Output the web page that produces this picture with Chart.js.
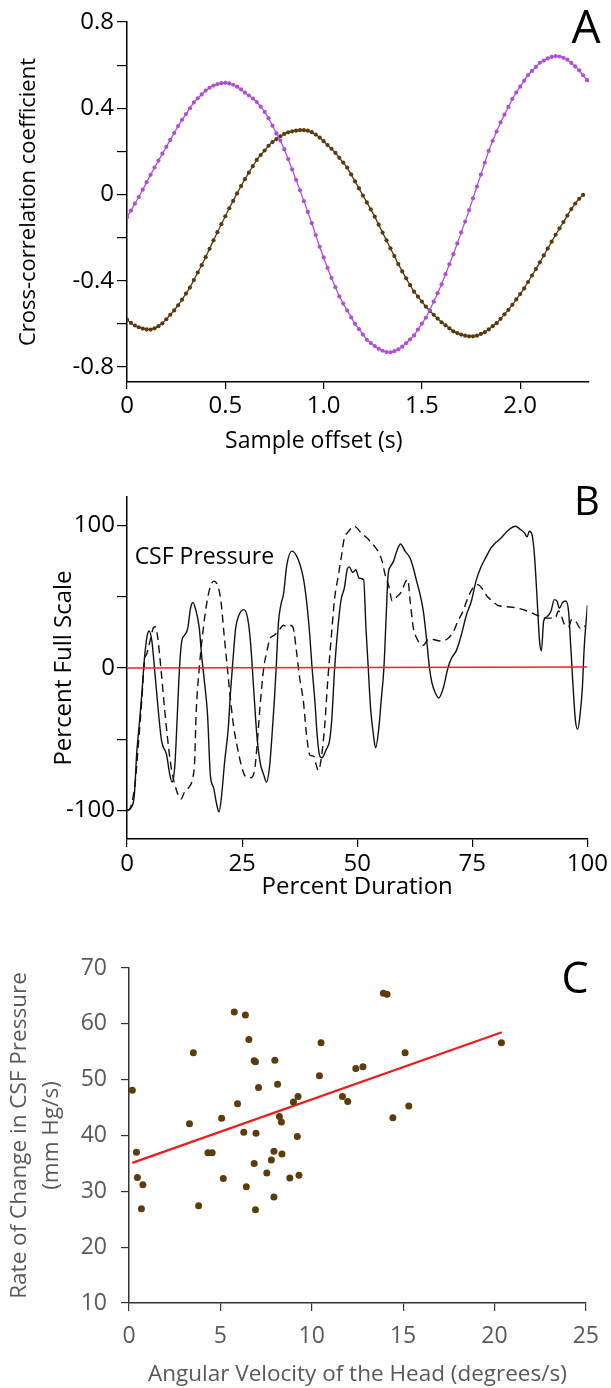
<!DOCTYPE html>
<html>
<head>
<meta charset="utf-8">
<script src="https://cdn.jsdelivr.net/npm/chart.js@4.4.1/dist/chart.umd.min.js"></script>
<style>
  body { margin: 0; background: #fff; }
  canvas { position: absolute; left: 0; display: block; }
</style>
</head>
<body>
<canvas id="chartA" width="611" height="460" style="top:0px"></canvas>
<canvas id="chartB" width="611" height="455" style="top:460px"></canvas>
<canvas id="chartC" width="611" height="473" style="top:915px"></canvas>
<script>
// ---- panel A: cross-correlation, one value every 0.02 s ----
const sampleStep = 0.02;
const purpleA = [
  -0.106, -0.075, -0.043, -0.012, 0.022, 0.057, 0.091, 0.125, 0.157, 0.189,
  0.221, 0.253, 0.285, 0.317, 0.346, 0.373, 0.400, 0.427, 0.446, 0.464,
  0.482, 0.495, 0.505, 0.512, 0.516, 0.518, 0.515, 0.509, 0.500, 0.487,
  0.472, 0.459, 0.445, 0.429, 0.407, 0.383, 0.354, 0.319, 0.283, 0.250,
  0.210, 0.164, 0.116, 0.068, 0.019, -0.031, -0.081, -0.133, -0.188, -0.243,
  -0.292, -0.341, -0.387, -0.430, -0.473, -0.506, -0.538, -0.570, -0.600, -0.625,
  -0.650, -0.674, -0.689, -0.703, -0.716, -0.725, -0.731, -0.732, -0.727, -0.718,
  -0.706, -0.690, -0.672, -0.654, -0.627, -0.599, -0.572, -0.536, -0.497, -0.458,
  -0.417, -0.370, -0.324, -0.277, -0.227, -0.176, -0.126, -0.073, -0.018, 0.037,
  0.092, 0.147, 0.202, 0.249, 0.292, 0.334, 0.370, 0.406, 0.443, 0.473,
  0.500, 0.528, 0.554, 0.573, 0.592, 0.611, 0.621, 0.631, 0.638, 0.642,
  0.640, 0.634, 0.625, 0.610, 0.594, 0.576, 0.553, 0.530
];
const brownA = [
  -0.581, -0.596, -0.608, -0.616, -0.622, -0.626, -0.627, -0.621, -0.611, -0.598,
  -0.579, -0.558, -0.538, -0.514, -0.488, -0.460, -0.432, -0.397, -0.362, -0.328,
  -0.291, -0.252, -0.213, -0.175, -0.138, -0.101, -0.064, -0.030, 0.005, 0.039,
  0.071, 0.101, 0.131, 0.160, 0.183, 0.204, 0.226, 0.243, 0.257, 0.270,
  0.281, 0.288, 0.293, 0.296, 0.298, 0.298, 0.296, 0.289, 0.278, 0.264,
  0.247, 0.229, 0.212, 0.193, 0.170, 0.148, 0.124, 0.093, 0.061, 0.028,
  -0.005, -0.037, -0.069, -0.103, -0.140, -0.177, -0.213, -0.250, -0.286, -0.323,
  -0.357, -0.389, -0.421, -0.451, -0.474, -0.497, -0.520, -0.540, -0.558, -0.576,
  -0.593, -0.607, -0.621, -0.635, -0.643, -0.650, -0.655, -0.658, -0.658, -0.655,
  -0.647, -0.639, -0.626, -0.611, -0.597, -0.577, -0.556, -0.535, -0.512, -0.487,
  -0.462, -0.436, -0.406, -0.376, -0.346, -0.315, -0.283, -0.251, -0.219, -0.187,
  -0.157, -0.128, -0.098, -0.068, -0.042, -0.020, -0.002
];
const yTicksA = [-0.8, -0.6, -0.4, -0.2, 0, 0.2, 0.4, 0.6, 0.8];
const yLabelsA = ['-0.8', '', '-0.4', '', '0', '', '0.4', '', '0.8'];
const xTicksA = [0, 0.5, 1, 1.5, 2];
const xLabelsA = ['0', '0.5', '1.0', '1.5', '2.0'];

// ---- panel B: percent full scale over percent duration ----
const solidPctB = [
  0, 0.9, 1.6, 2.1, 2.6, 3.2, 3.8, 4.4, 4.8, 5.4,
  6.1, 6.8, 7.5, 8.6, 9.3, 9.8, 10.4, 10.9, 11.4, 11.9,
  12.5, 13.2, 13.8, 14.3, 15.0, 15.7, 16.2, 16.8, 17.5, 18.1,
  18.8, 19.5, 20.0, 20.5, 21.2, 22.0, 22.5, 23.0, 23.6, 24.3,
  25.4, 26.2, 26.8, 27.5, 28.2, 28.9, 29.7, 30.3, 31.0, 31.5,
  32.0, 32.4, 32.9, 33.4, 34.0, 34.7, 35.8, 37.2, 38.3, 39.0,
  39.7, 40.2, 40.8, 41.3, 41.8, 42.3, 43.3, 44.0, 44.5, 45.1,
  45.8, 46.5, 47.2, 47.9, 48.3, 49.0, 49.7, 50.4, 51.4, 51.9,
  52.4, 52.9, 53.6, 54.0, 54.7, 55.2, 55.8, 56.3, 56.7, 57.2,
  57.9, 58.6, 59.4, 60.4, 61.5, 62.2, 62.9, 63.7, 64.4, 65.1,
  65.7, 66.2, 66.9, 67.7, 68.7, 69.7, 70.5, 71.5, 72.6, 73.7,
  74.8, 75.8, 76.9, 78.0, 79.0, 80.1, 81.2, 82.3, 83.3, 84.4,
  85.5, 86.3, 86.9, 87.4, 88.0, 88.5, 89.1, 89.6, 90.0, 90.5,
  91.2, 92.1, 92.8, 93.4, 93.9, 94.6, 95.3, 95.9, 96.4, 96.9,
  97.4, 97.9, 98.4, 98.9, 99.3, 100
];
const solidValB = [
  -100, -98, -89, -60, -42, -19, 7, 23, 26, 19,
  -5, -30, -51, -61, -75, -80, -68, -35, 0, 19,
  23, 28, 42, 46, 40, 28, 9, -9, -33, -75,
  -84, -96, -101, -91, -66, -42, -16, 5, 28, 37,
  41, 35, 19, -14, -47, -66, -75, -80, -68, -47,
  -23, 0, 32, 44, 52, 72, 82, 76, 63, 47,
  23, 0, -23, -47, -61, -63, -57, -51, -35, 0,
  28, 48, 56, 70, 71, 67, 69, 63, 62, 28,
  0, -28, -49, -56, -42, -23, 0, 37, 65, 71,
  75, 82, 87, 82, 77, 70, 61, 51, 39, 19,
  0, -10, -17, -21, -14, 0, 7, 12, 23, 37,
  47, 61, 71, 78, 84, 88, 91, 95, 98, 99.5,
  97, 95, 92, 96, 93, 79, 47, 19, 12, 33,
  36, 40, 48, 47, 42, 46, 47, 40, 14, -14,
  -37, -43, -33, -14, 14, 44
];
const dashPctB = [
  0, 0.6, 1.1, 1.8, 2.5, 3.2, 3.8, 4.3, 5.0, 5.7,
  6.1, 6.6, 7.5, 8.2, 8.9, 9.6, 10.4, 11.1, 11.7, 12.5,
  13.6, 14.3, 14.7, 15.0, 15.7, 16.4, 17.4, 18.1, 18.8, 19.8,
  20.4, 21.1, 21.8, 22.5, 23.2, 24.0, 24.8, 25.7, 26.8, 27.7,
  28.2, 29.0, 29.7, 30.4, 31.1, 32.0, 32.9, 34.0, 34.7, 35.4,
  36.1, 36.8, 37.5, 38.3, 39.0, 39.7, 40.6, 41.1, 41.6, 42.2,
  42.9, 43.6, 44.3, 45.1, 45.8, 46.5, 47.2, 47.9, 49.4, 50.8,
  52.2, 53.6, 54.7, 55.4, 56.1, 56.9, 57.6, 58.6, 59.7, 60.4,
  61.0, 61.5, 62.2, 62.9, 63.7, 64.4, 65.4, 66.5, 67.9, 69.4,
  70.8, 71.9, 73.0, 74.0, 75.1, 76.2, 77.3, 78.3, 79.4, 80.5,
  82.6, 84.8, 86.9, 89.1, 90.8, 91.9, 93.0, 93.7, 94.4, 95.1,
  95.9, 96.6, 97.6, 98.4, 99.1, 99.6
];
const dashValB = [
  -100, -99, -94, -80, -52, -23, 5, 10, 19, 28,
  29, 23, -5, -30, -52, -70, -82, -89, -92, -87,
  -83, -77, -65, -33, 0, 23, 47, 57, 61, 57,
  47, 23, 0, -23, -42, -56, -68, -76, -77, -72,
  -56, -23, 0, 12, 21, 23, 26, 30, 29, 30,
  28, 12, -7, -23, -47, -61, -62, -68, -72, -63,
  -42, -9, 19, 49, 63, 77, 91, 95, 99.5, 95,
  91, 86, 81, 75, 65, 57, 47, 50, 54, 60,
  62, 47, 28, 21, 17, 16, 20, 20, 19, 20,
  25, 33, 40, 49, 56, 58.5, 55, 50, 47, 44,
  43, 42, 40, 37, 35, 35, 35, 40, 36, 30,
  29, 34, 32, 28, 30, 29
];
const zeroLinePctB = [0, 100];
const zeroLineValB = [0, 0.7];
const yTicksB = [-100, -50, 0, 50, 100];
const yLabelsB = ['-100', '', '0', '', '100'];
const xTicksB = [0, 25, 50, 75, 100];
const xLabelsB = ['0', '25', '50', '75', '100'];
const noteB = 'CSF Pressure';
const noteAtB = [16.8, 77.7];

// ---- panel C: rate of change vs angular velocity ----
const velocityC = [
  0.18, 0.41, 0.46, 0.76, 0.68, 3.52, 3.31, 3.81, 4.32, 4.55,
  5.07, 5.16, 5.76, 6.37, 5.94, 6.56, 6.28, 6.42, 6.85, 6.92,
  7.09, 6.95, 6.85, 6.92, 7.98, 8.13, 7.54, 7.79, 7.93, 8.23,
  8.34, 8.37, 7.93, 8.80, 9.00, 9.25, 9.21, 9.30, 10.42, 10.51,
  11.68, 11.97, 12.41, 12.80, 13.92, 14.12, 14.44, 15.11, 15.31, 20.38
];
const rateC = [
  48.1, 37.0, 32.5, 31.2, 26.9, 54.8, 42.1, 27.4, 36.9, 36.9,
  43.1, 32.3, 62.1, 61.6, 45.7, 57.2, 40.6, 30.8, 53.4, 53.2,
  48.6, 40.4, 35.0, 26.7, 53.5, 49.2, 33.3, 35.6, 37.2, 43.4,
  42.4, 36.7, 29.0, 32.4, 46.0, 47.0, 39.8, 32.9, 50.7, 56.6,
  47.0, 46.1, 52.0, 52.3, 65.5, 65.3, 43.2, 54.8, 45.3, 56.6
];
const trendXC = [0.18, 20.4];
const trendYC = [35.1, 58.5];
const xTicksC = [0, 5, 10, 15, 20, 25];
const yTicksC = [10, 20, 30, 40, 50, 60, 70];

Chart.defaults.font.family = '"Open Sans", sans-serif';
Chart.defaults.color = '#000';

function panelLetter(letter, x, y, size) {
  return {
    id: 'letter' + letter,
    afterDraw(chart) {
      const ctx = chart.ctx;
      ctx.save();
      ctx.font = size + 'px "Open Sans", sans-serif';
      ctx.fillStyle = '#000';
      ctx.textAlign = 'center';
      ctx.textBaseline = 'alphabetic';
      ctx.fillText(letter, x, y);
      ctx.restore();
    }
  };
}

const pairs = (xs, ys) => xs.map((x, i) => ({x: x, y: ys[i]}));

//chart A
new Chart(document.getElementById('chartA'), {
  type: 'line',
  data: {
    datasets: [{
      data: purpleA.map((v, i) => ({x: i * sampleStep, y: v})),
      borderColor: '#b04fd6',
      backgroundColor: '#b04fd6',
      borderWidth: 1.3,
      pointRadius: 2.1,
      pointBorderWidth: 0,
      tension: 0
    }, {
      data: brownA.map((v, i) => ({x: i * sampleStep, y: v})),
      borderColor: '#5a3a0c',
      backgroundColor: '#5a3a0c',
      borderWidth: 1.3,
      pointRadius: 2.1,
      pointBorderWidth: 0,
      tension: 0
    }]
  },
  options: {
    responsive: false,
    animation: false,
    layout: { padding: { top: 22, right: 22, left: 0, bottom: 0 } },
    plugins: { legend: { display: false }, tooltip: { enabled: false } },
    scales: {
      x: {
        type: 'linear',
        min: 0,
        max: 2.35,
        afterBuildTicks: s => { s.ticks = xTicksA.map(v => ({ value: v })); },
        afterFit: s => { s.height = 78; },
        grid: { drawOnChartArea: false, tickLength: 7, color: '#000', lineWidth: 1.2 },
        border: { color: '#000', width: 1.5 },
        ticks: {
          padding: 3,
          maxRotation: 0,
          font: { size: 24 },
          callback: v => xLabelsA[xTicksA.indexOf(v)]
        }
      },
      y: {
        min: -0.87,
        max: 0.8,
        afterBuildTicks: s => { s.ticks = yTicksA.map(v => ({ value: v })); },
        afterFit: s => { s.width = 127; },
        grid: { drawOnChartArea: false, tickLength: 10, color: '#000', lineWidth: 1.2 },
        border: { color: '#000', width: 1.5 },
        ticks: {
          padding: 3,
          font: { size: 24 },
          callback: v => yLabelsA[yTicksA.indexOf(v)]
        },
        title: {
          display: true,
          text: 'Cross-correlation coefficient',
          font: { size: 22 },
          padding: { top: 16, bottom: 0 }
        }
      }
    }
  },
  plugins: [panelLetter('A', 586, 43, 46), {
    id: 'xTitleA',
    afterDraw(chart) {
      const ctx = chart.ctx;
      ctx.save();
      ctx.font = '23px "Open Sans", sans-serif';
      ctx.fillStyle = '#000';
      ctx.textAlign = 'center';
      ctx.textBaseline = 'middle';
      ctx.fillText('Sample offset (s)', chart.scales.x.getPixelForValue(0.95), 441);
      ctx.restore();
    }
  }]
});

//chart B
new Chart(document.getElementById('chartB'), {
  type: 'line',
  data: {
    datasets: [{
      data: pairs(zeroLinePctB, zeroLineValB),
      borderColor: '#e8262a',
      borderWidth: 1.6,
      pointRadius: 0
    }, {
      data: pairs(solidPctB, solidValB),
      borderColor: '#111',
      borderWidth: 1.4,
      pointRadius: 0,
      cubicInterpolationMode: 'monotone'
    }, {
      data: pairs(dashPctB, dashValB),
      borderColor: '#111',
      borderWidth: 1.4,
      borderDash: [8, 5],
      pointRadius: 0,
      cubicInterpolationMode: 'monotone'
    }]
  },
  options: {
    responsive: false,
    animation: false,
    layout: { padding: { top: 37, right: 18, left: 0, bottom: 0 } },
    plugins: { legend: { display: false }, tooltip: { enabled: false } },
    scales: {
      x: {
        type: 'linear',
        min: 0,
        max: 100,
        afterBuildTicks: s => { s.ticks = xTicksB.map(v => ({ value: v })); },
        afterFit: s => { s.height = 76; },
        grid: { drawOnChartArea: false, tickLength: 8, color: '#000', lineWidth: 1.2 },
        border: { color: '#000', width: 1.5 },
        ticks: {
          padding: 3,
          maxRotation: 0,
          font: { size: 24 },
          callback: v => xLabelsB[xTicksB.indexOf(v)]
        },
        title: {
          display: true,
          text: 'Percent Duration',
          font: { size: 24 },
          padding: { top: 0, bottom: 13 }
        }
      },
      y: {
        min: -120,
        max: 120,
        afterBuildTicks: s => { s.ticks = yTicksB.map(v => ({ value: v })); },
        afterFit: s => { s.width = 127; },
        grid: { drawOnChartArea: false, tickLength: 10, color: '#000', lineWidth: 1.2 },
        border: { color: '#000', width: 1.5 },
        ticks: {
          padding: 2,
          font: { size: 24 },
          callback: v => yLabelsB[yTicksB.indexOf(v)]
        },
        title: {
          display: true,
          text: 'Percent Full Scale',
          font: { size: 24 },
          padding: { top: 50, bottom: 0 }
        }
      }
    }
  },
  plugins: [panelLetter('B', 587, 55, 40), {
    id: 'noteB',
    afterDatasetsDraw(chart) {
      const ctx = chart.ctx;
      ctx.save();
      ctx.font = '23px "Open Sans", sans-serif';
      ctx.fillStyle = '#000';
      ctx.textAlign = 'center';
      ctx.textBaseline = 'middle';
      ctx.fillText(noteB, chart.scales.x.getPixelForValue(noteAtB[0]), chart.scales.y.getPixelForValue(noteAtB[1]));
      ctx.restore();
    }
  }]
});

//chart C
new Chart(document.getElementById('chartC'), {
  type: 'scatter',
  data: {
    datasets: [{
      data: pairs(velocityC, rateC),
      backgroundColor: '#5b3c0c',
      borderWidth: 0,
      pointRadius: 3.5
    }, {
      data: pairs(trendXC, trendYC),
      showLine: true,
      borderColor: '#ee1c1c',
      borderWidth: 2.2,
      pointRadius: 0
    }]
  },
  options: {
    responsive: false,
    animation: false,
    layout: { padding: { top: 53, right: 13, left: 0, bottom: 0 } },
    plugins: { legend: { display: false }, tooltip: { enabled: false } },
    scales: {
      x: {
        min: 0,
        max: 25,
        afterBuildTicks: s => { s.ticks = xTicksC.map(v => ({ value: v })); },
        afterFit: s => { s.height = 85; },
        grid: { drawOnChartArea: false, tickLength: 8, color: '#333', lineWidth: 1.2 },
        border: { color: '#333', width: 1.5 },
        ticks: { padding: 12, maxRotation: 0, color: '#595959', font: { size: 23 } },
        title: {
          display: true,
          text: 'Angular Velocity of the Head (degrees/s)',
          color: '#595959',
          font: { size: 22.5 },
          padding: { top: 0, bottom: 0 }
        }
      },
      y: {
        min: 10,
        max: 70,
        afterBuildTicks: s => { s.ticks = yTicksC.map(v => ({ value: v })); },
        afterFit: s => { s.width = 129; },
        grid: { drawOnChartArea: false, tickLength: 8, color: '#333', lineWidth: 1.2 },
        border: { color: '#333', width: 1.5 },
        ticks: { padding: 14, color: '#595959', font: { size: 23 } },
        title: {
          display: true,
          text: ['Rate of Change in CSF Pressure', '(mm Hg/s)'],
          color: '#595959',
          font: { size: 22.5, lineHeight: 1.45 },
          padding: { top: 3, bottom: 0 }
        }
      }
    }
  },
  plugins: [panelLetter('C', 575, 78, 43)]
});
</script>
</body>
</html>
